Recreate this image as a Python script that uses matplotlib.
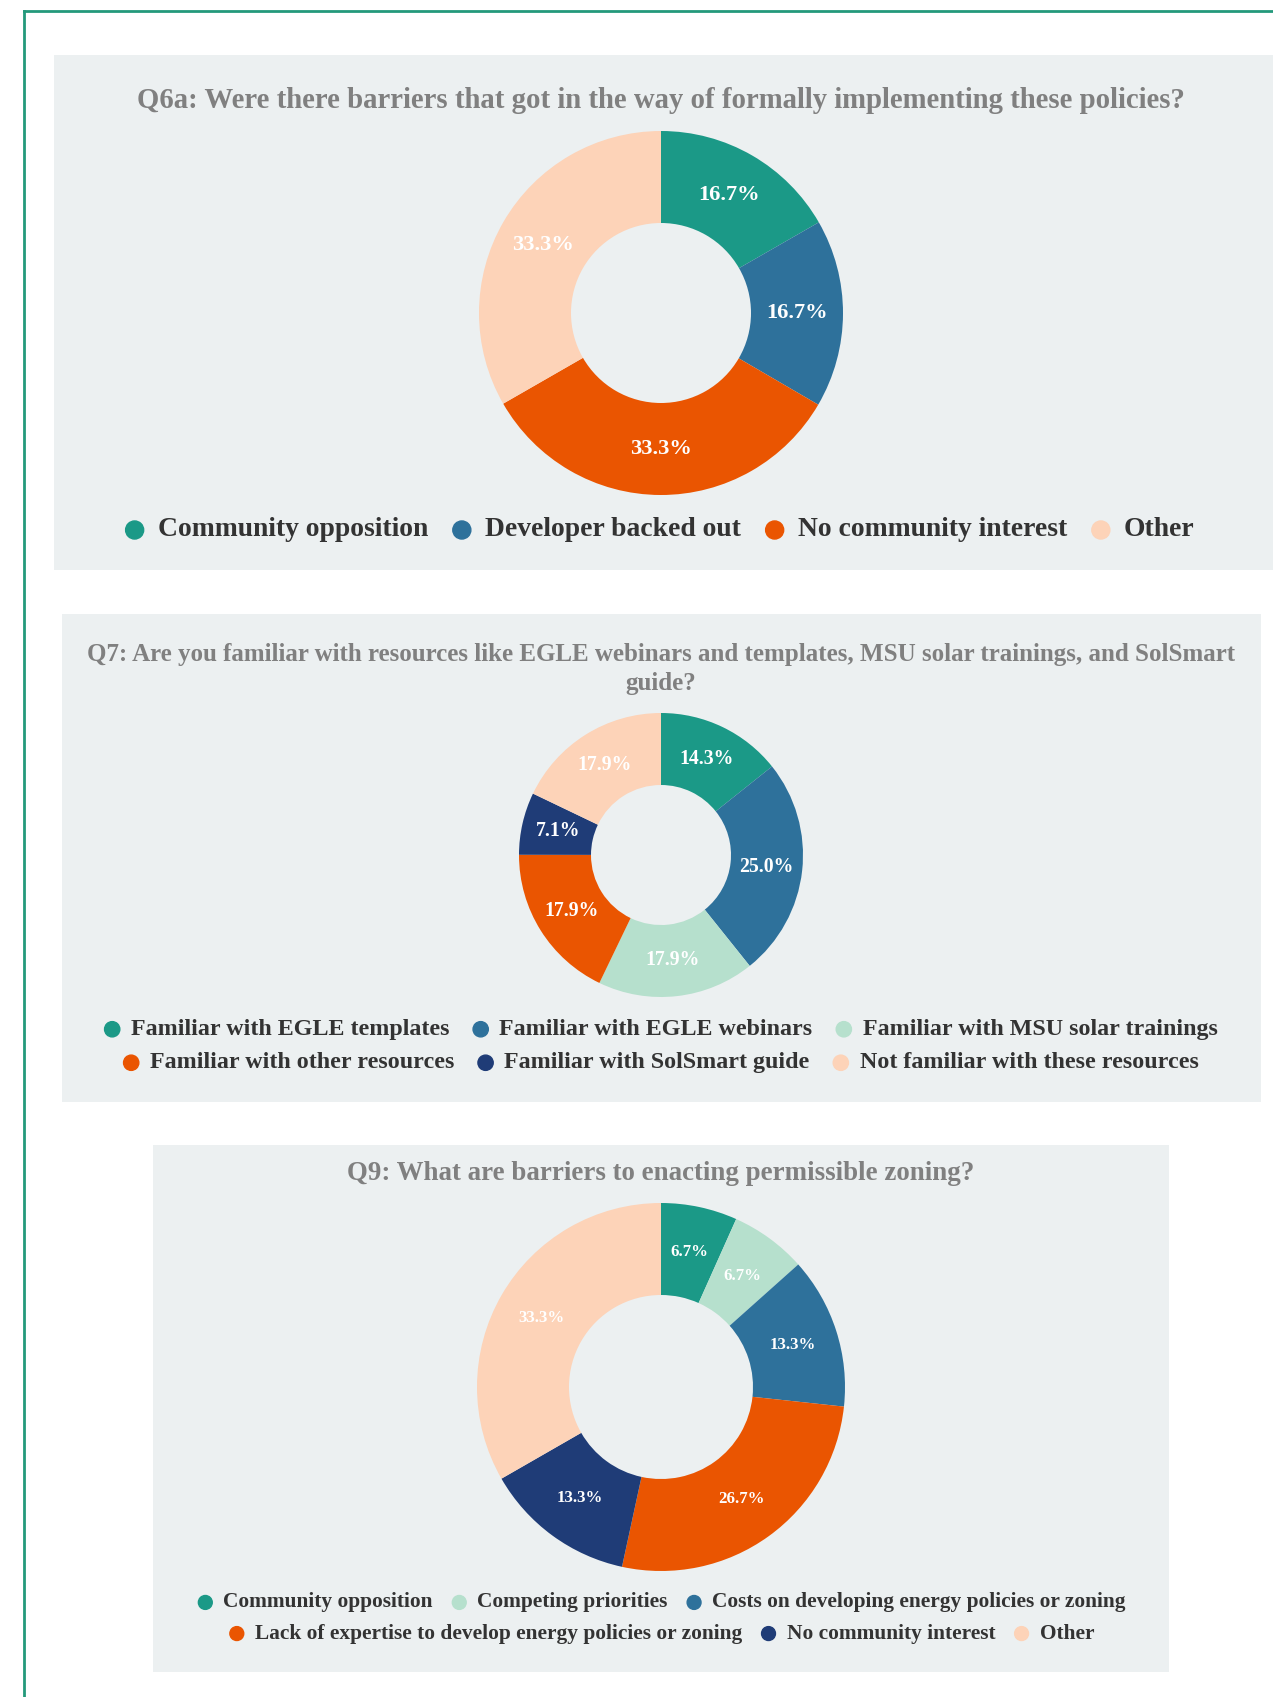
import matplotlib
matplotlib.use("Agg")
import matplotlib.pyplot as plt
from matplotlib.patches import Rectangle, Circle
from matplotlib.lines import Line2D
from matplotlib.offsetbox import (AnchoredOffsetbox, DrawingArea, HPacker,
                                  TextArea, VPacker)

# data
q6a_labels = ["Community opposition", "Developer backed out",
              "No community interest", "Other"]
q6a_values = [16.7, 16.7, 33.3, 33.3]

q7_labels = ["Familiar with EGLE templates", "Familiar with EGLE webinars",
             "Familiar with MSU solar trainings", "Familiar with other resources",
             "Familiar with SolSmart guide", "Not familiar with these resources"]
q7_values = [14.3, 25.0, 17.9, 17.9, 7.1, 17.9]

q9_labels = ["Community opposition", "Competing priorities",
             "Costs on developing energy policies or zoning",
             "Lack of expertise to develop energy policies or zoning",
             "No community interest", "Other"]
q9_values = [6.7, 6.7, 13.3, 26.7, 13.3, 33.3]

TEAL = "#1b9987"
BLUE = "#2e719b"
ORANGE = "#ea5501"
PEACH = "#fdd3b8"
MINT = "#b6e0cd"
NAVY = "#1f3c77"
q6a_colors = [TEAL, BLUE, ORANGE, PEACH]
q7_colors = [TEAL, BLUE, MINT, ORANGE, NAVY, PEACH]
q9_colors = [TEAL, MINT, BLUE, ORANGE, NAVY, PEACH]

W, H = 1273, 1697
PANEL_BG = "#ecf0f1"
SERIF = ["Liberation Serif", "DejaVu Serif"]

fig = plt.figure(figsize=(W / 100, H / 100), dpi=100)
fig.patch.set_facecolor("white")


def fx(x):
    return x / W


def fy(y):
    return 1 - y / H


# teal frame (top and left edges)
fig.add_artist(Line2D([fx(24), 1], [fy(11), fy(11)], color="#24997b", lw=2))
fig.add_artist(Line2D([fx(24), fx(24)], [fy(11), 0], color="#24997b", lw=2))


def panel(x0, y0, x1, y1):
    fig.add_artist(Rectangle((fx(x0), fy(y1)), fx(x1 - x0), (y1 - y0) / H,
                             facecolor=PANEL_BG, edgecolor="none",
                             transform=fig.transFigure, zorder=0))


def donut(cx, cy, R, r_in, values, colors, pct_size):
    ax = fig.add_axes([fx(cx - R), fy(cy + R), 2 * R / W, 2 * R / H])
    ax.pie(values, colors=colors, startangle=90, counterclock=False,
           radius=1, wedgeprops=dict(width=1 - r_in / R, linewidth=0),
           labels=[f"{v:.1f}%" for v in values], labeldistance=(1 + r_in / R) / 2,
           textprops=dict(color="white", fontsize=pct_size, fontweight="bold",
                          family=SERIF, ha="center", va="center"))
    ax.set_xlim(-1, 1)
    ax.set_ylim(-1, 1)
    ax.set_aspect("equal")
    ax.axis("off")
    for t in ax.texts:
        t.set_horizontalalignment("center")
    return ax


def legend_rows(rows, colors, cx, cy, size, dot, gap, item_gap, row_gap):
    packs = []
    k = 0
    for row in rows:
        items = []
        for lab in row:
            da = DrawingArea(dot, dot, 0, 0)
            da.add_artist(Circle((dot / 2, dot / 2), dot / 2, color=colors[k]))
            k += 1
            ta = TextArea(lab, textprops=dict(size=size, fontweight="bold",
                                              color="#333333", family=SERIF))
            items.append(HPacker(children=[da, ta], sep=gap, align="center"))
        packs.append(HPacker(children=items, sep=item_gap, align="center"))
    box = VPacker(children=packs, sep=row_gap, align="center")
    anc = AnchoredOffsetbox(loc="center", child=box, frameon=False, pad=0,
                            borderpad=0, bbox_to_anchor=(fx(cx), fy(cy)),
                            bbox_transform=fig.transFigure)
    fig.add_artist(anc)


# Q6a
panel(54, 55, 1273, 570)
fig.text(fx(661), fy(101), "Q6a: Were there barriers that got in the way of formally implementing these policies?",
         ha="center", va="center", fontsize=20.7, fontweight="bold",
         color="#808080", family=SERIF)
donut(661, 313, 182, 90, q6a_values, q6a_colors, 16.2)
legend_rows([q6a_labels], q6a_colors, 660, 530, 19.9, 13, 10, 18, 0)

# Q7
panel(62, 614, 1261, 1102)
fig.text(fx(661), fy(669), "Q7: Are you familiar with resources like EGLE webinars and templates, MSU solar trainings, and SolSmart\nguide?",
         ha="center", va="center", fontsize=18, fontweight="bold",
         color="#808080", family=SERIF, linespacing=1.38)
donut(661, 855, 142, 70, q7_values, q7_colors, 14.2)
legend_rows([q7_labels[:3], q7_labels[3:]], q7_colors, 661, 1046, 17.3, 11, 8, 17, 9)

# Q9
panel(153, 1145, 1169, 1672)
fig.text(fx(661), fy(1173), "Q9: What are barriers to enacting permissible zoning?",
         ha="center", va="center", fontsize=19.4, fontweight="bold",
         color="#808080", family=SERIF)
donut(661, 1387, 184, 92, q9_values, q9_colors, 12.2)
legend_rows([q9_labels[:3], q9_labels[3:]], q9_colors, 662, 1618, 15.4, 10, 8, 14, 8)

fig.savefig("out.png", dpi=100, facecolor="white")
